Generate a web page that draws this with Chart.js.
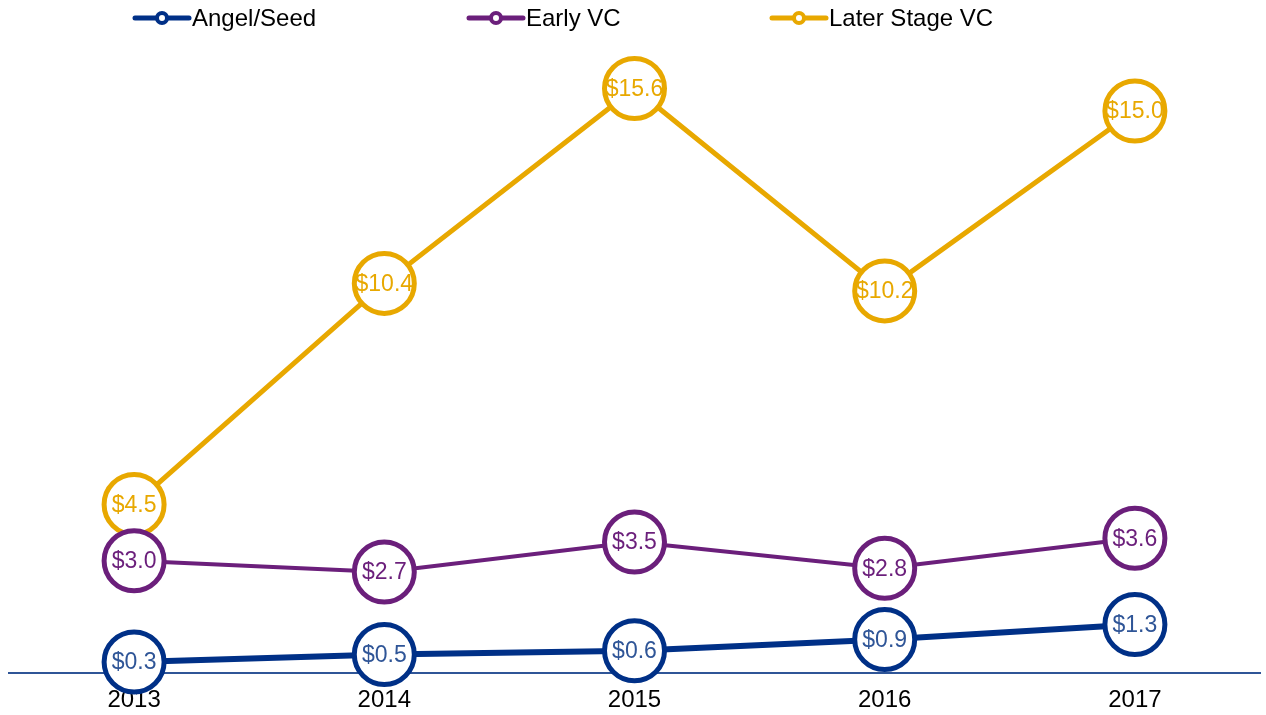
<!DOCTYPE html>
<html>
<head>
<meta charset="utf-8">
<script src="https://cdn.jsdelivr.net/npm/chart.js@4/dist/chart.umd.min.js"></script>
<style>
  html, body { margin: 0; padding: 0; background: #fff; }
  #wrap { width: 1266px; height: 715px; position: relative; }
</style>
</head>
<body>
<div id="wrap"><canvas id="vcChart"></canvas></div>
<script>
// data
var years = ['2013', '2014', '2015', '2016', '2017'];
var angelSeed = [0.3, 0.5, 0.6, 0.9, 1.3];
var earlyVC = [3.0, 2.7, 3.5, 2.8, 3.6];
var laterVC = [4.5, 10.4, 15.6, 10.2, 15.0];
var seriesNames = ['Angel/Seed', 'Early VC', 'Later Stage VC'];

var lineColors = ['#003087', '#6b1f7b', '#e8a800'];
var labelColors = ['#2f5597', '#6b1f7b', '#e8a800'];
var legendX = [133, 467, 770];

var FONT = '"Liberation Sans", Arial, sans-serif';

// text inside every circle
var pointLabels = {
    id: 'pointLabels',
    afterDatasetsDraw: function(chart) {
        var ctx = chart.ctx;
        ctx.save();
        ctx.font = '23px ' + FONT;
        ctx.textAlign = 'center';
        ctx.textBaseline = 'middle';
        chart.data.datasets.forEach(function(ds, i) {
            var meta = chart.getDatasetMeta(i);
            meta.data.forEach(function(pt, j) {
                ctx.fillStyle = labelColors[i];
                ctx.fillText('$' + ds.data[j].toFixed(1), pt.x, pt.y + 1);
            });
        });
        ctx.restore();
    }
};

// legend: line with small hollow circle, then the name
var lineLegend = {
    id: 'lineLegend',
    afterDraw: function(chart) {
        var ctx = chart.ctx;
        var y = 18;
        ctx.save();
        chart.data.datasets.forEach(function(ds, i) {
            var x = legendX[i];
            ctx.strokeStyle = lineColors[i];
            ctx.lineWidth = 5;
            ctx.lineCap = 'round';
            ctx.beginPath();
            ctx.moveTo(x + 2, y);
            ctx.lineTo(x + 56, y);
            ctx.stroke();
            ctx.beginPath();
            ctx.arc(x + 29, y, 5, 0, Math.PI * 2);
            ctx.fillStyle = '#fff';
            ctx.fill();
            ctx.lineWidth = 4;
            ctx.stroke();
            ctx.fillStyle = '#000';
            ctx.font = '24px ' + FONT;
            ctx.textAlign = 'left';
            ctx.textBaseline = 'middle';
            ctx.fillText(ds.label, x + 59, y + 1);
        });
        ctx.restore();
    }
};

function makeSet(i, values, width) {
    return {
        label: seriesNames[i],
        data: values,
        borderColor: lineColors[i],
        borderWidth: width,
        pointRadius: 30,
        pointHoverRadius: 30,
        pointBorderWidth: 5,
        pointBackgroundColor: '#fff',
        pointBorderColor: lineColors[i],
        tension: 0,
        clip: false
    };
}

var ctx = document.getElementById('vcChart').getContext('2d');
var chart = new Chart(ctx, {
    type: 'line',
    data: {
        labels: years,
        datasets: [
            makeSet(0, angelSeed, 6),
            makeSet(1, earlyVC, 4),
            makeSet(2, laterVC, 5)
        ]
    },
    options: {
        responsive: true,
        maintainAspectRatio: false,
        animation: false,
        layout: { autoPadding: false, padding: { top: 36, left: 9, right: 6, bottom: -13 } },
        plugins: {
            legend: { display: false },
            tooltip: { enabled: false }
        },
        scales: {
            x: {
                offset: true,
                grid: { display: false, drawTicks: false },
                border: { display: true, color: '#2f5597', width: 2 },
                ticks: { color: '#000', padding: 13, font: { family: FONT, size: 24 } }
            },
            y: {
                display: false,
                min: 0,
                max: 17
            }
        }
    },
    plugins: [pointLabels, lineLegend]
});
</script>
</body>
</html>
